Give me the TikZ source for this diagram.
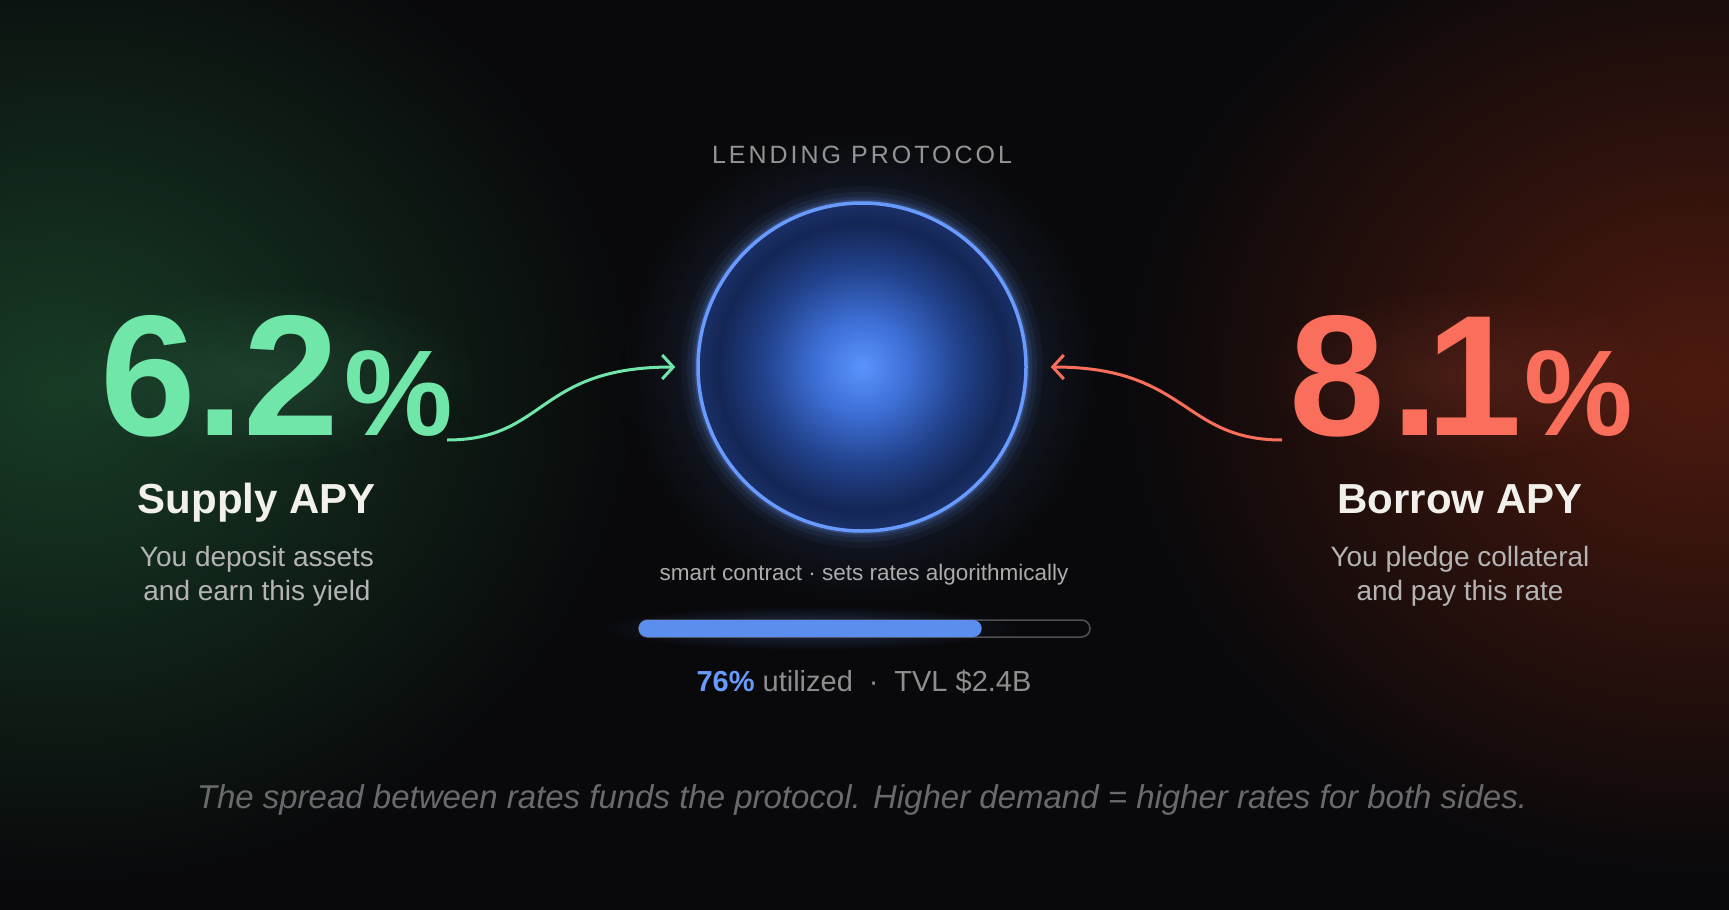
\documentclass[tikz,border=0pt]{standalone}
\usepackage{fontspec}
\setmainfont{Liberation Sans}
\newfontfamily\spacedfont[LetterSpace=12]{Liberation Sans}
\usetikzlibrary{arrows.meta,%
                fadings,%
                positioning}

\definecolor{bgdark}{RGB}{9,9,11}
\definecolor{greenhaze}{RGB}{24,60,38}
\definecolor{redhaze}{RGB}{78,26,15}
\definecolor{mint}{RGB}{112,231,168}
\definecolor{salmon}{RGB}{250,110,92}
\definecolor{ringblue}{RGB}{105,155,255}
\definecolor{barblue}{RGB}{92,142,240}
\definecolor{statblue}{RGB}{104,154,250}
\definecolor{lblwhite}{RGB}{242,240,235}
\definecolor{descgray}{RGB}{180,180,180}
\definecolor{capgray}{RGB}{148,148,148}
\definecolor{smallgray}{RGB}{172,172,172}
\definecolor{statgray}{RGB}{142,142,142}
\definecolor{notegray}{RGB}{106,106,108}
\definecolor{trackgray}{RGB}{80,80,84}
\definecolor{coreA}{RGB}{90,148,252}
\definecolor{coreB}{RGB}{62,112,215}
\definecolor{coreC}{RGB}{34,66,140}
\definecolor{coreD}{RGB}{20,38,84}
\definecolor{coreE}{RGB}{26,48,104}

\pgfdeclareradialshading{poolcore}{\pgfpoint{0bp}{0bp}}{%
  color(0bp)=(coreA); color(7bp)=(coreB); color(15bp)=(coreC);
  color(22bp)=(coreD); color(25bp)=(coreE); color(50bp)=(coreE)}
\tikzfading[name=glowfade, inner color=transparent!0, outer color=transparent!100]

\begin{document}
\begin{tikzpicture}[x=1pt,y=-1pt,style=thick]
\tikzstyle{rate}=[inner sep=0pt,font=\bfseries]
\tikzstyle{title}=[inner sep=0pt,text=lblwhite,font=\bfseries\fontsize{42}{42}\selectfont]
\tikzstyle{desc}=[inner sep=0pt,align=center,text=descgray,font=\fontsize{28}{34}\selectfont]
\tikzstyle{pool}=[draw=ringblue,line width=3.5pt,shape=circle,minimum size=328pt,shade,shading=poolcore]
\tikzstyle{flow}=[draw,line width=3pt,-{Straight Barb[length=11pt,width=24pt]}]
\tikzstyle{track}=[draw=trackgray,line width=1.5pt,rounded corners=8.5pt,minimum width=451pt,minimum height=17pt,inner sep=0pt]
\tikzstyle{barfill}=[fill=barblue,rounded corners=8.5pt,minimum width=343pt,minimum height=17pt,inner sep=0pt]
\tikzstyle{glow}=[path fading=glowfade]

% background and side glows
\fill[bgdark] (0,0) rectangle (1729,910);
\useasboundingbox (0,0) rectangle (1729,910);
\fill[glow,greenhaze] (60,390) ellipse (580pt and 500pt);
\fill[glow,redhaze] (1700,380) ellipse (580pt and 500pt);
\fill[glow,ringblue,fill opacity=0.3] (862,367) circle (240pt);
\fill[glow,mint,fill opacity=0.12] (274,375) ellipse (210pt and 90pt);
\fill[glow,salmon,fill opacity=0.12] (1463,375) ellipse (210pt and 90pt);

% ring halo
\foreach \w/\o in {34pt/0.05,22pt/0.08,13pt/0.12,7pt/0.2}
  \draw[ringblue,line width=\w,opacity=\o] (862,367) circle (164pt);

\draw (862,367) node[pool] (pool) {};
\draw (862,163) node[inner sep=0pt,anchor=base,text=capgray,font=\spacedfont\fontsize{25}{25}\selectfont] (caption) {LENDING PROTOCOL};

% rates
\draw (100,435) node[rate,anchor=base west,text=mint] (supplyrate) {\fontsize{172}{172}\selectfont 6.2\kern5pt\fontsize{122}{122}\selectfont\%};
\draw (1461,435) node[rate,anchor=base,text=salmon] (borrowrate) {\fontsize{172}{172}\selectfont 8\kern7pt.\kern-13pt 1\kern2pt\fontsize{122}{122}\selectfont\%};

\draw (257,513) node[title,anchor=base] (supplylbl) {Supply APY};
\draw (257,600) node[desc,anchor=base] (supplytxt) {You deposit assets\\and earn this yield};
\draw (1460,513) node[title,anchor=base] (borrowlbl) {Borrow APY};
\draw (1460,600) node[desc,anchor=base] (borrowtxt) {You pledge collateral\\and pay this rate};

\coordinate (gstart) at (447,440);
\coordinate (rstart) at (1282,440);
\draw[flow,mint,shorten >=21pt] (gstart) .. controls +(100,0) and +(-160,0) .. (pool.west);
\draw[flow,salmon,shorten >=23pt] (rstart) .. controls +(-100,0) and +(160,0) .. (pool.east);

% utilization bar
\draw (864,580) node[inner sep=0pt,anchor=base,text=smallgray,font=\fontsize{22.5}{22.5}\selectfont] (contract) {smart contract · sets rates algorithmically};
\fill[glow,barblue,fill opacity=0.3] (810,628) ellipse (210pt and 22pt);
\draw (864.5,628.5) node[track] (track) {};
\draw (track.west) node[barfill,anchor=west] (usage) {};
\draw (864,691) node[inner sep=0pt,anchor=base,text=statgray,font=\fontsize{29}{29}\selectfont] (stats) {{\bfseries\color{statblue}76\%} utilized\hspace{0.55em}·\hspace{0.55em}TVL \$2.4B};

\draw (862,808) node[inner sep=0pt,anchor=base,text=notegray,font=\itshape\fontsize{33}{33}\selectfont] (note) {The spread between rates funds the protocol. Higher demand = higher rates for both sides.};
\end{tikzpicture}
\end{document}
